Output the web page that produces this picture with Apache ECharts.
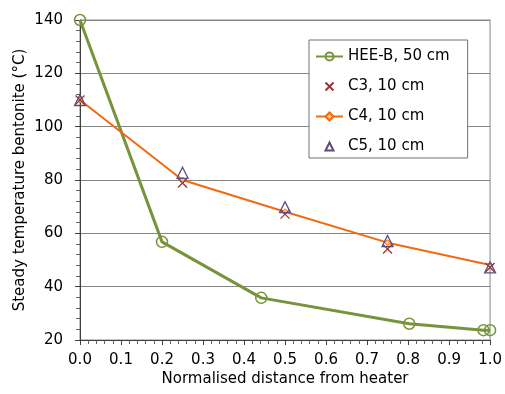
<!DOCTYPE html>
<html><head><meta charset="utf-8">
<script src="https://cdn.jsdelivr.net/npm/echarts@6/dist/echarts.min.js"></script>
<style>html,body{margin:0;padding:0;background:#fff}#c{width:505px;height:394px}</style>
</head><body><div id="c"></div>
<script>
var heeX = [0, 0.2, 0.442, 0.803, 0.984, 1.0];
var heeY = [140, 56.8, 35.8, 26.1, 23.7, 23.7];
var cX = [0, 0.25, 0.5, 0.75, 1.0];
var c3Y = [110, 78.9, 67.2, 54.1, 47.2];
var c4Y = [110, 80, 68.1, 56.5, 48.1];
var c5Y = [110, 82.7, 69.8, 57.1, 47.2];
var seriesNames = ['HEE-B, 50 cm', 'C3, 10 cm', 'C4, 10 cm', 'C5, 10 cm'];
function pairs(xs, ys){ return xs.map(function(x,i){return [x, ys[i]];}); }
var FONT = 'DejaVu Sans';
var FS = 15;
var chart = echarts.init(document.getElementById('c'));
chart.setOption({
  animation: false,
  textStyle: {fontFamily: FONT},
  grid: {left: 80, right: 14, top: 20, bottom: 54, show: true, borderColor: '#868686', borderWidth: 1},
  legend: {
    orient: 'vertical', left: 309, top: 40,
    backgroundColor: '#fff', borderColor: '#707070', borderWidth: 1,
    padding: [9, 18, 4, 6], itemGap: 15, itemWidth: 27, itemHeight: 10,
    textStyle: {fontFamily: FONT, fontSize: FS, color: '#000'},
    data: [
      {name: seriesNames[0]},
      {name: seriesNames[1], lineStyle: {opacity: 0}},
      {name: seriesNames[2]},
      {name: seriesNames[3], lineStyle: {opacity: 0}}
    ]
  },
  xAxis: {
    type: 'value', min: 0, max: 1, interval: 0.1,
    name: 'Normalised distance from heater', nameLocation: 'middle', nameGap: 32,
    nameMoveOverlap: false,
    nameTextStyle: {fontFamily: FONT, fontSize: FS, color: '#000'},
    axisLine: {lineStyle: {color: '#404040'}},
    axisTick: {show: true, length: 5, lineStyle: {color: '#404040'}},
    minorTick: {show: true, splitNumber: 5, length: 4, lineStyle: {color: '#606060'}},
    splitLine: {show: false},
    axisLabel: {fontFamily: FONT, fontSize: FS, color: '#000', margin: 13, formatter: function(v){return v.toFixed(1);}}
  },
  yAxis: {
    type: 'value', min: 20, max: 140, interval: 20,
    name: 'Steady temperature bentonite (°C)', nameLocation: 'middle', nameGap: 52,
    nameMoveOverlap: false,
    nameTextStyle: {fontFamily: FONT, fontSize: FS, color: '#000'},
    axisLine: {show: true, lineStyle: {color: '#404040'}},
    axisTick: {show: true, length: 5, lineStyle: {color: '#404040'}},
    minorTick: {show: true, splitNumber: 5, length: 4, lineStyle: {color: '#606060'}},
    splitLine: {show: true, lineStyle: {color: '#868686', width: 1}},
    axisLabel: {fontFamily: FONT, fontSize: FS, color: '#000', margin: 17}
  },
  series: [
    {name: seriesNames[0], type: 'line', data: pairs(heeX, heeY), z: 2,
     lineStyle: {color: '#77933C', width: 3}, symbol: 'circle', symbolSize: 11,
     itemStyle: {color: 'rgba(255,255,255,0)', borderColor: '#77933C', borderWidth: 1.5}},
    {name: seriesNames[1], type: 'line', data: pairs(cX, c3Y), z: 4,
     lineStyle: {opacity: 0, width: 1},
     symbol: 'path://M0,0L10,10M10,0L0,10', symbolSize: 9,
     itemStyle: {color: 'rgba(0,0,0,0)', borderColor: '#953735', borderWidth: 1.3}},
    {name: seriesNames[2], type: 'line', data: pairs(cX, c4Y), z: 3,
     lineStyle: {color: '#F06A10', width: 2}, symbol: 'diamond', symbolSize: 6,
     itemStyle: {color: '#FBC08A', borderColor: '#F06A10', borderWidth: 1}},
    {name: seriesNames[3], type: 'line', data: pairs(cX, c5Y), z: 5,
     lineStyle: {opacity: 0, width: 1},
     symbol: 'triangle', symbolSize: 11,
     itemStyle: {color: 'rgba(0,0,0,0)', borderColor: '#604A7B', borderWidth: 1.3}}
  ]
});
</script></body></html>
